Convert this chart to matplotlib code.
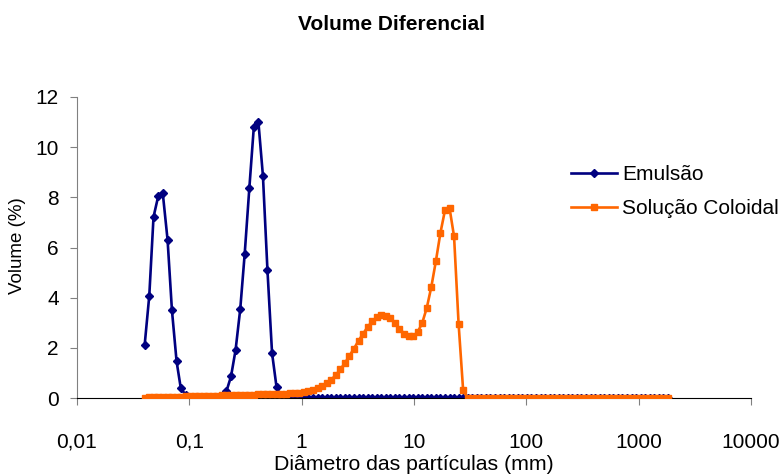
import matplotlib
matplotlib.use("Agg")
import matplotlib.pyplot as plt

plt.rcParams['font.family'] = ['Liberation Sans', 'DejaVu Sans']

# particle size classes (mm) - 116 channels, 0.04 .. 1822
diametro = [
    0.040, 0.044, 0.048, 0.053, 0.058, 0.064, 0.070, 0.077, 0.084, 0.093,
    0.102, 0.112, 0.122, 0.134, 0.148, 0.162, 0.178, 0.195, 0.214, 0.235,
    0.258, 0.284, 0.311, 0.342, 0.375, 0.412, 0.452, 0.496, 0.545, 0.598,
    0.656, 0.721, 0.791, 0.868, 0.953, 1.047, 1.149, 1.261, 1.385, 1.520,
    1.669, 1.832, 2.011, 2.208, 2.423, 2.660, 2.920, 3.206, 3.519, 3.863,
    4.241, 4.656, 5.111, 5.611, 6.159, 6.761, 7.422, 8.148, 8.944, 9.819,
    10.78, 11.83, 12.99, 14.26, 15.65, 17.18, 18.86, 20.71, 22.73, 24.95,
    27.39, 30.07, 33.01, 36.24, 39.78, 43.67, 47.94, 52.63, 57.77, 63.42,
    69.62, 76.43, 83.90, 92.10, 101.1, 111.0, 121.8, 133.7, 146.8, 161.2,
    176.8, 194.2, 213.2, 234.0, 256.9, 282.1, 309.6, 339.9, 373.1, 409.6,
    449.7, 493.6, 541.9, 594.9, 653.0, 716.9, 786.9, 863.9, 948.3, 1041,
    1143, 1255, 1377, 1512, 1660, 1822,
]

emulsao = [
    2.10, 4.08, 7.22, 8.07, 8.17, 6.31, 3.50, 1.46, 0.38, 0.12,
    0.03, 0.01, 0.00, 0.00, 0.00, 0.00, 0.00, 0.08, 0.27, 0.86,
    1.91, 3.55, 5.74, 8.36, 10.80, 11.00, 8.86, 5.09, 1.79, 0.42,
    0.05, 0, 0, 0, 0, 0, 0, 0, 0, 0,
    0, 0, 0, 0, 0, 0, 0, 0, 0, 0,
    0, 0, 0, 0, 0, 0, 0, 0, 0, 0,
    0, 0, 0, 0, 0, 0, 0, 0, 0, 0,
    0, 0, 0, 0, 0, 0, 0, 0, 0, 0,
    0, 0, 0, 0, 0, 0, 0, 0, 0, 0,
    0, 0, 0, 0, 0, 0, 0, 0, 0, 0,
    0, 0, 0, 0, 0, 0, 0, 0, 0, 0,
    0, 0, 0, 0, 0, 0,
]

coloidal = [
    0.01, 0.02, 0.02, 0.03, 0.03, 0.04, 0.04, 0.05, 0.05, 0.06,
    0.06, 0.07, 0.07, 0.08, 0.08, 0.09, 0.09, 0.10, 0.10, 0.11,
    0.11, 0.12, 0.12, 0.13, 0.13, 0.14, 0.14, 0.15, 0.15, 0.16,
    0.16, 0.17, 0.18, 0.19, 0.20, 0.22, 0.26, 0.31, 0.38, 0.47,
    0.58, 0.73, 0.91, 1.14, 1.39, 1.68, 1.97, 2.28, 2.56, 2.83,
    3.05, 3.22, 3.29, 3.27, 3.18, 2.99, 2.77, 2.57, 2.47, 2.46,
    2.63, 2.99, 3.59, 4.43, 5.45, 6.58, 7.48, 7.58, 6.44, 2.95,
    0.30, 0, 0, 0, 0, 0, 0, 0, 0, 0,
    0, 0, 0, 0, 0, 0, 0, 0, 0, 0,
    0, 0, 0, 0, 0, 0, 0, 0, 0, 0,
    0, 0, 0, 0, 0, 0, 0, 0, 0, 0,
    0, 0, 0, 0, 0, 0,
]

xticks = [0.01, 0.1, 1, 10, 100, 1000, 10000]
xtick_labels = ['0,01', '0,1', '1', '10', '100', '1000', '10000']
yticks = [0, 2, 4, 6, 8, 10, 12]

fig = plt.figure(figsize=(7.84, 4.76), dpi=100)
ax = fig.add_axes([77 / 784, 1 - 398 / 476, 674 / 784, 301 / 476])

ax.plot(diametro, emulsao, color='#000080', lw=1.9, marker='D', ms=3.6,
        label='Emulsão', zorder=2)
ax.plot(diametro, coloidal, color='#FF6600', lw=1.9, marker='s', ms=4.6,
        label='Solução Coloidal', zorder=3)

ax.set_xscale('log')
ax.set_xlim(0.01, 10000)
ax.set_ylim(0, 12)
ax.set_xticks(xticks)
ax.set_xticklabels(xtick_labels)
ax.minorticks_off()
ax.set_yticks(yticks)

for s in ['top', 'right']:
    ax.spines[s].set_visible(False)
ax.spines['left'].set_color('#808080')
ax.spines['bottom'].set_color('black')
ax.tick_params(axis='x', direction='out', length=5, pad=20, labelsize=15,
               color='#808080')
ax.tick_params(axis='y', direction='out', length=5, pad=8, labelsize=15,
               color='#808080')

# axis titles placed in figure pixels
fig.text(414 / 784, 1 - 465 / 476, 'Diâmetro das partículas (mm)', ha='center',
         va='center', fontsize=15.3)
fig.text(18 / 784, 1 - 246 / 476, 'Volume (%)', ha='center', va='center',
         rotation=90, fontsize=13.5)
fig.text(391 / 784, 1 - 25 / 476, 'Volume Diferencial', ha='center',
         va='center', fontsize=15, fontweight='bold')

fig.legend(loc='upper left', bbox_to_anchor=(571 / 784, 1 - 165 / 476),
           frameon=False, fontsize=15, borderpad=0, borderaxespad=0,
           handlelength=2.2, handletextpad=0.25, labelspacing=0.72,
           numpoints=1)

fig.savefig('out.png', dpi=100)
